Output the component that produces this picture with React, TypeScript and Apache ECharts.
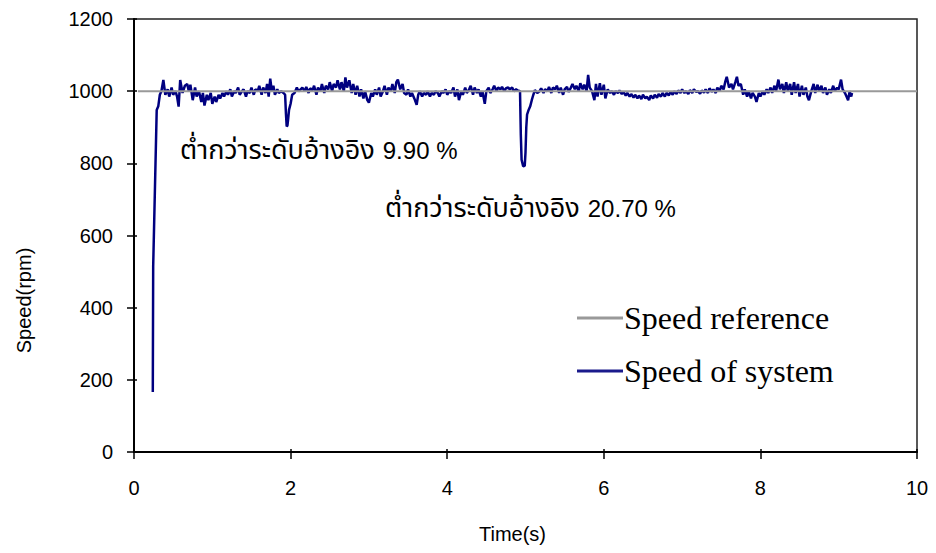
import React, { useEffect, useRef } from "react";
import * as echarts from "echarts";

const xTicks = [0, 2, 4, 6, 8, 10];
const yTicks = [0, 200, 400, 600, 800, 1000, 1200];

const refTime = [0.05, 10];
const refSpeed = [1000, 1000];

const sysTime = [
  0.24, 0.245, 0.29, 0.31, 0.33, 0.35, 0.375, 0.4, 0.43, 0.45, 0.48, 0.5, 0.53, 0.55, 0.57, 0.59, 0.62, 0.65, 0.68, 0.7,
  0.72, 0.75, 0.78, 0.8, 0.83, 0.86, 0.88, 0.9, 0.93, 0.95, 0.98, 1.0, 1.03, 1.05, 1.08, 1.1, 1.13, 1.15, 1.18, 1.2,
  1.23, 1.25, 1.28, 1.3, 1.33, 1.35, 1.38, 1.4, 1.43, 1.45, 1.48, 1.5, 1.53, 1.55, 1.58, 1.6, 1.63, 1.65, 1.68, 1.7,
  1.72, 1.74, 1.76, 1.78, 1.8, 1.83, 1.85, 1.88, 1.91, 1.93, 1.94, 1.95, 1.96, 1.97, 1.98, 2.0, 2.02, 2.05, 2.08, 2.1,
  2.13, 2.15, 2.18, 2.2, 2.23, 2.25, 2.28, 2.3, 2.33, 2.35, 2.38, 2.4, 2.43, 2.45, 2.48, 2.5, 2.53, 2.55, 2.58, 2.6,
  2.63, 2.65, 2.68, 2.7, 2.72, 2.75, 2.78, 2.8, 2.83, 2.85, 2.88, 2.9, 2.93, 2.95, 2.98, 3.0, 3.03, 3.05, 3.08, 3.1,
  3.13, 3.15, 3.18, 3.2, 3.23, 3.25, 3.28, 3.3, 3.33, 3.35, 3.37, 3.4, 3.43, 3.45, 3.48, 3.5, 3.53, 3.55, 3.58, 3.61,
  3.63, 3.65, 3.68, 3.7, 3.73, 3.75, 3.78, 3.8, 3.83, 3.85, 3.88, 3.9, 3.93, 3.95, 3.98, 4.0, 4.03, 4.05, 4.08, 4.1,
  4.13, 4.15, 4.18, 4.2, 4.23, 4.25, 4.28, 4.3, 4.33, 4.35, 4.38, 4.4, 4.43, 4.45, 4.48, 4.5, 4.53, 4.55, 4.58, 4.6,
  4.63, 4.65, 4.68, 4.7, 4.73, 4.75, 4.78, 4.8, 4.83, 4.85, 4.88, 4.9, 4.93, 4.94, 4.95, 4.97, 4.99, 5.0, 5.01, 5.02,
  5.04, 5.06, 5.08, 5.1, 5.12, 5.15, 5.18, 5.2, 5.23, 5.25, 5.28, 5.3, 5.33, 5.35, 5.38, 5.4, 5.43, 5.45, 5.48, 5.5,
  5.53, 5.55, 5.58, 5.6, 5.63, 5.65, 5.68, 5.7, 5.73, 5.75, 5.78, 5.8, 5.82, 5.85, 5.88, 5.9, 5.92, 5.95, 5.97, 6.0,
  6.02, 6.05, 6.08, 6.1, 6.13, 6.15, 6.18, 6.2, 6.23, 6.25, 6.28, 6.3, 6.33, 6.35, 6.38, 6.4, 6.43, 6.45, 6.48, 6.5,
  6.53, 6.55, 6.58, 6.6, 6.63, 6.65, 6.68, 6.7, 6.73, 6.75, 6.78, 6.8, 6.83, 6.85, 6.88, 6.9, 6.93, 6.95, 6.98, 7.0,
  7.03, 7.05, 7.08, 7.1, 7.13, 7.15, 7.18, 7.2, 7.23, 7.25, 7.28, 7.3, 7.33, 7.35, 7.38, 7.4, 7.43, 7.45, 7.48, 7.5,
  7.53, 7.55, 7.57, 7.6, 7.63, 7.65, 7.68, 7.7, 7.72, 7.75, 7.78, 7.8, 7.83, 7.85, 7.88, 7.9, 7.93, 7.95, 7.98, 8.0,
  8.03, 8.05, 8.08, 8.1, 8.13, 8.15, 8.18, 8.2, 8.23, 8.25, 8.28, 8.3, 8.33, 8.35, 8.38, 8.4, 8.43, 8.45, 8.48, 8.5,
  8.53, 8.55, 8.58, 8.6, 8.62, 8.65, 8.68, 8.7, 8.73, 8.75, 8.78, 8.8, 8.83, 8.85, 8.88, 8.9, 8.93, 8.95, 8.98, 9.0,
  9.03, 9.05, 9.08, 9.1, 9.12, 9.14, 9.16, 9.17,
];

const sysSpeed = [
  166, 515, 948, 958, 990, 1000, 1031, 990, 1005, 985, 1010, 990, 1000, 985, 957, 1031, 995, 1015, 1020, 1000,
  1018, 975, 1010, 985, 1000, 970, 995, 960, 990, 975, 995, 965, 985, 970, 990, 980, 995, 985, 1000, 990,
  1005, 985, 1000, 995, 1010, 990, 1000, 1005, 985, 1000, 995, 1010, 990, 1005, 1000, 1015, 990, 1010, 995, 1020,
  985, 1035, 1000, 1015, 990, 1005, 995, 1000, 995, 990, 940, 902, 905, 925, 948, 965, 990, 995, 1010, 1000,
  1005, 1010, 1000, 1012, 995, 1008, 1002, 1015, 990, 1010, 1000, 1020, 995, 1015, 1005, 1025, 1000, 1020, 1010, 1030,
  1005, 1025, 1000, 1038, 1010, 1030, 995, 1020, 990, 1015, 985, 1005, 980, 1000, 975, 968, 995, 985, 1005, 990,
  1010, 985, 1000, 1015, 990, 1010, 1000, 1020, 995, 1025, 1032, 1005, 1020, 995, 990, 1005, 985, 995, 980, 962,
  990, 1000, 985, 995, 990, 1000, 985, 995, 990, 1000, 995, 985, 1000, 995, 1005, 990, 1000, 995, 1010, 985,
  1005, 975, 1000, 990, 1010, 995, 1005, 1015, 990, 1010, 995, 1005, 985, 1000, 965, 1000, 1010, 995, 1005, 1015,
  1000, 1010, 1005, 1012, 1000, 1008, 1010, 1005, 1010, 1000, 1005, 1002, 1000, 880, 810, 792, 793, 830, 900, 935,
  948, 958, 975, 990, 1003, 995, 1000, 1008, 995, 1005, 1000, 1012, 995, 1010, 1005, 1015, 995, 1010, 990, 1005,
  1012, 998, 1010, 1020, 1005, 1015, 1000, 1022, 1005, 1018, 1000, 1045, 1010, 1000, 975, 1020, 985, 1022, 990, 1018,
  980, 1005, 995, 1000, 990, 1000, 995, 1002, 992, 998, 988, 995, 985, 992, 982, 990, 980, 988, 978, 990,
  980, 985, 975, 988, 980, 990, 982, 992, 985, 995, 985, 995, 988, 998, 990, 1000, 992, 1002, 995, 1005,
  995, 1000, 992, 1003, 995, 1005, 998, 1000, 993, 1002, 996, 1005, 995, 1008, 998, 1005, 995, 1010, 1000, 1015,
  1005, 1025, 1040, 1010, 1020, 1005, 1025, 1040, 1015, 1020, 990, 1005, 985, 1000, 980, 995, 985, 970, 995, 985,
  1000, 990, 1005, 995, 1010, 995, 1015, 1000, 1032, 1005, 1020, 995, 1025, 1000, 1020, 990, 1025, 995, 1020, 985,
  1015, 990, 1010, 985, 975, 1000, 1020, 995, 1018, 1000, 1015, 995, 1010, 990, 1005, 995, 1015, 1000, 1010, 1005,
  1032, 1005, 995, 985, 975, 1000, 985, 995,
];

const seriesNames = ["Speed reference", "Speed of system"];
const annotationThai = "ต่ำกว่าระดับอ้างอิง";
const annotationValues = ["9.90 %", "20.70 %"];

const SANS = '"Liberation Sans", Arial, sans-serif';
const THAI = 'Tahoma, "Noto Sans Thai", "Loma", "Garuda", "DejaVu Sans", "Liberation Sans", sans-serif';
const SERIF = '"Liberation Serif", "Times New Roman", serif';

export default function App() {
  const ref = useRef<HTMLDivElement>(null);
  useEffect(() => {
    if (!ref.current) return;
    const chart = echarts.init(ref.current, undefined, { renderer: "svg" });
    const grid = { left: 134, right: 19, top: 19, bottom: 101 };
    const sysData = sysTime.map((t, i) => [t, sysSpeed[i]]);
    const refData = refTime.map((t, i) => [t, refSpeed[i]]);
    const rich = {
      th: { fontFamily: THAI, fontSize: 27, fill: "#000", color: "#000" },
      num: { fontFamily: SANS, fontSize: 24, fill: "#000", color: "#000", padding: [0, 0, 0, 8] },
    };
    chart.setOption({
      animation: false,
      backgroundColor: "#ffffff",
      grid: [
        { ...grid, show: true, borderColor: "#222", borderWidth: 1.5, backgroundColor: "transparent" },
        { ...grid, show: false },
      ],
      legend: {
        data: [
          { name: seriesNames[0], icon: "rect", itemStyle: { color: "#999999" } },
          { name: seriesNames[1], icon: "rect", itemStyle: { color: "#1a1a8c" } },
        ],
        orient: "vertical",
        left: 572,
        top: 297,
        itemWidth: 46,
        itemHeight: 3,
        itemGap: 21,
        textStyle: { fontFamily: SERIF, fontSize: 32, color: "#000", padding: [0, 0, 0, -4] },
      },
      xAxis: [
        {
          type: "value",
          gridIndex: 0,
          min: 0,
          max: 10,
          interval: 2,
          name: "Time(s)",
          nameLocation: "middle",
          nameGap: 72,
          nameTextStyle: { fontFamily: SANS, fontSize: 20, color: "#000", padding: [0, 26, 0, 0] },
          axisLine: { show: true, onZero: false, lineStyle: { color: "#000", width: 2 } },
          axisTick: { show: true, length: 7, lineStyle: { color: "#000", width: 1.5 } },
          axisLabel: { margin: 26, fontFamily: SANS, fontSize: 20, color: "#000", formatter: (v: number) => String(v) },
          splitLine: { show: false },
        },
        {
          type: "value",
          gridIndex: 1,
          min: 0,
          max: 10,
          interval: 2,
          axisLine: { show: false },
          axisTick: { show: true, inside: true, length: 3, lineStyle: { color: "#000", width: 1.5 } },
          axisLabel: { show: false },
          splitLine: { show: false },
        },
      ],
      yAxis: [
        {
          type: "value",
          gridIndex: 0,
          min: 0,
          max: 1200,
          interval: 200,
          name: "Speed(rpm)",
          nameLocation: "middle",
          nameGap: 100,
          nameTextStyle: { fontFamily: SANS, fontSize: 20, color: "#000", padding: [0, 130, 0, 0] },
          axisLine: { show: true, onZero: false, lineStyle: { color: "#000", width: 2 } },
          axisTick: { show: true, length: 7, lineStyle: { color: "#000", width: 1.5 } },
          axisLabel: { margin: 21, fontFamily: SANS, fontSize: 20, color: "#000", formatter: (v: number) => String(v) },
          splitLine: { show: false },
        },
        {
          type: "value",
          gridIndex: 1,
          min: 0,
          max: 1200,
          interval: 200,
          axisLine: { show: false },
          axisTick: { show: true, inside: true, length: 3, lineStyle: { color: "#000", width: 1.5 } },
          axisLabel: { show: false },
          splitLine: { show: false },
        },
      ],
      series: [
        {
          name: seriesNames[1],
          type: "line",
          xAxisIndex: 0,
          yAxisIndex: 0,
          data: sysData,
          showSymbol: false,
          symbol: "none",
          lineStyle: { color: "#000080", width: 2.5 },
          itemStyle: { color: "#1a1a8c" },
          z: 2,
        },
        {
          name: seriesNames[0],
          type: "line",
          xAxisIndex: 0,
          yAxisIndex: 0,
          data: refData,
          showSymbol: false,
          symbol: "none",
          lineStyle: { color: "#999999", width: 2 },
          itemStyle: { color: "#999999" },
          z: 3,
        },
      ],
      graphic: [
        {
          type: "text",
          left: 180,
          top: 137,
          style: { text: `{th|${annotationThai}}{num|${annotationValues[0]}}`, rich, fill: "#000" },
        },
        {
          type: "text",
          left: 385,
          top: 195,
          style: { text: `{th|${annotationThai}}{num|${annotationValues[1]}}`, rich, fill: "#000" },
        },
      ],
    });
    return () => chart.dispose();
  }, []);
  return <div ref={ref} style={{ width: 936, height: 553, position: "absolute", left: 0, top: 0 }} />;
}
